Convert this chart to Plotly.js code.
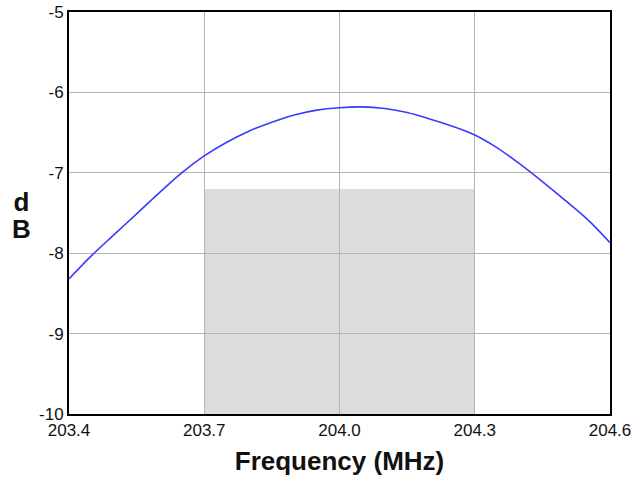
<!DOCTYPE html>
<html>
<head>
<meta charset="utf-8">
<script src="https://cdn.plot.ly/plotly-3.0.1.min.js"></script>
<style>html,body{margin:0;padding:0;background:#fff}#chart{width:643px;height:481px}</style>
</head>
<body>
<div id="chart"></div>
<script>
var freq = [203.40,203.45,203.50,203.55,203.60,203.65,203.70,203.75,203.80,203.85,203.90,203.95,204.00,204.05,204.10,204.15,204.20,204.25,204.30,204.35,204.40,204.45,204.50,204.55,204.60];
var dB = [-8.32,-8.03,-7.77,-7.51,-7.25,-7.00,-6.79,-6.62,-6.48,-6.37,-6.28,-6.22,-6.19,-6.18,-6.20,-6.25,-6.33,-6.42,-6.53,-6.69,-6.89,-7.11,-7.34,-7.58,-7.87];
var bandX = [203.7, 204.3];
var bandY = [-10, -7.2];
var xTickVals = [203.4,203.7,204.0,204.3,204.6];
var xTickText = ["203.4","203.7","204.0","204.3","204.6"];
var yTickVals = [-10,-9,-8,-7,-6,-5];
var yTickText = ["-10","-9","-8","-7","-6","-5"];

var font = "Liberation Sans, Arial, sans-serif";
var trace = {
  x: freq, y: dB, type: "scatter", mode: "lines",
  line: {color: "#3a3aff", width: 1.6, shape: "spline", smoothing: 1},
  hoverinfo: "none", showlegend: false
};
var layout = {
  width: 643, height: 481,
  margin: {l: 69, r: 33, t: 12, b: 67},
  paper_bgcolor: "#fff", plot_bgcolor: "#fff",
  font: {family: font, color: "#000"},
  xaxis: {
    range: [203.4, 204.6], tickmode: "array", tickvals: xTickVals, ticktext: xTickText,
    showgrid: true, gridcolor: "#b4b4b4", gridwidth: 1, zeroline: false,
    showline: true, mirror: true, linecolor: "#000", linewidth: 2, ticks: "",
    tickfont: {size: 17, family: font, color: "#111"},
    title: {text: "<b>Frequency (MHz)</b>", font: {size: 26, family: font, color: "#111"}, standoff: 12}
  },
  yaxis: {
    range: [-10, -5], tickmode: "array", tickvals: yTickVals, ticktext: yTickText,
    showgrid: true, gridcolor: "#b4b4b4", gridwidth: 1, zeroline: false,
    showline: true, mirror: true, linecolor: "#000", linewidth: 2, ticks: "",
    tickfont: {size: 17, family: font, color: "#111"}
  },
  shapes: [{
    type: "rect", xref: "x", yref: "y", layer: "below",
    x0: bandX[0], x1: bandX[1], y0: bandY[0], y1: bandY[1],
    fillcolor: "#dcdcdc", line: {width: 0}
  }],
  annotations: [{
    xref: "paper", yref: "paper", x: -0.088, y: 0.485, xanchor: "center", yanchor: "middle",
    text: "<b>d<br>B</b>", showarrow: false, align: "center",
    font: {size: 26, family: font, color: "#111"}
  }]
};
Plotly.newPlot("chart", [trace], layout, {staticPlot: true, displayModeBar: false}).then(function(){
  var ann = document.querySelector(".annotation-text");
  if (ann) {
    var spans = ann.querySelectorAll("tspan.line");
    if (spans.length > 1) { spans[1].setAttribute("dy", "1.05em"); }
  }
});
</script>
</body>
</html>
